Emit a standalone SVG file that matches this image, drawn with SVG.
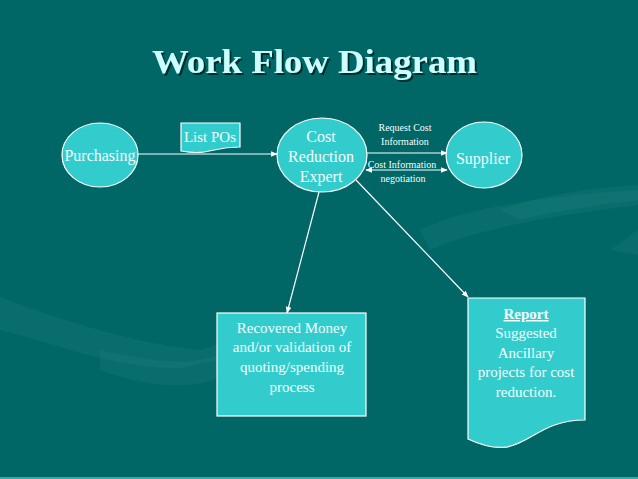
<svg xmlns="http://www.w3.org/2000/svg" width="638" height="479" viewBox="0 0 638 479">
<style>
.bg{fill:#006666}
.deco{fill:#2a8a86;opacity:0.2}
.node{fill:#33CCCC;stroke:#ffffff;stroke-width:1.2}
.t{font-family:"Liberation Serif","Times New Roman",serif;fill:#f4ffff;text-anchor:middle}
.n{font-size:15px}
.s{font-size:10px}
.conn{stroke:#ffffff;stroke-width:1.2;fill:none}
.title{font-family:"Liberation Serif","Times New Roman",serif;font-weight:bold;font-size:34px;fill:#ccffff}
</style>
<defs>
<marker id="ah" viewBox="0 0 10 10" refX="9" refY="5" markerWidth="7" markerHeight="7" orient="auto-start-reverse" markerUnits="userSpaceOnUse">
<path d="M0,1 L10,5 L0,9 z" fill="#ffffff"/>
</marker>
<filter id="shadow" x="-5%" y="-20%" width="110%" height="150%">
<feDropShadow dx="2" dy="2" stdDeviation="0.6" flood-color="#002a2a" flood-opacity="0.9"/>
</filter>
</defs>
<rect class="bg" x="0" y="0" width="638" height="479"/>
<g id="background-decoration">
<path class="deco" d="M0,297 C60,320 140,345 200,350 L260,330 L220,360 L180,368 C120,370 60,345 0,330 z"/>
<path class="deco" d="M100,350 C150,360 190,370 230,350 L215,380 C180,390 140,385 100,370 z"/>
<path class="deco" d="M420,230 C470,205 560,195 638,190 L638,205 C560,215 490,225 430,250 z"/>
<path class="deco" d="M500,210 C540,195 590,188 638,185 L638,200 C600,205 560,210 520,220 z"/>
<path class="deco" d="M610,250 L638,230 L638,255 z"/>
<rect x="0" y="477" width="638" height="2" fill="#3aa8a4"/>
</g>
<g id="title">
<text class="title" x="152" y="73" textLength="325" lengthAdjust="spacingAndGlyphs" filter="url(#shadow)">Work Flow Diagram</text>
</g>
<g id="connectors">
<line class="conn" x1="138" y1="154" x2="277" y2="154" marker-end="url(#ah)"/>
<line class="conn" x1="367" y1="153" x2="447" y2="153" marker-end="url(#ah)"/>
<line class="conn" x1="366" y1="170" x2="447" y2="170" marker-start="url(#ah)" marker-end="url(#ah)"/>
<line class="conn" x1="319" y1="192" x2="287" y2="313" marker-end="url(#ah)"/>
<line class="conn" x1="356" y1="180" x2="468" y2="297" marker-end="url(#ah)"/>
<text class="t s" x="405" y="131">Request Cost</text>
<text class="t s" x="405" y="145">Information</text>
<text class="t s" x="402" y="168">Cost Information</text>
<text class="t s" x="403" y="182">negotiation</text>
</g>
<g id="purchasing">
<ellipse class="node" cx="100" cy="155" rx="38" ry="32"/>
<text class="t" x="100" y="161" font-size="16">Purchasing</text>
</g>
<g id="list-pos">
<path class="node" d="M181,123 L240,123 L240,147 C210,147 210,156 181,151 z"/>
<text class="t n" x="210" y="142">List POs</text>
</g>
<g id="cost-reduction-expert">
<ellipse class="node" cx="322" cy="155" rx="45" ry="37"/>
<text class="t" x="321" y="142" font-size="16">Cost</text>
<text class="t" x="321" y="162" font-size="16">Reduction</text>
<text class="t" x="321" y="182" font-size="16">Expert</text>
</g>
<g id="supplier">
<ellipse class="node" cx="484" cy="155" rx="38" ry="33"/>
<text class="t" x="483" y="164" font-size="16">Supplier</text>
</g>
<g id="recovered-money">
<rect class="node" x="217" y="313" width="149" height="103"/>
<text class="t n" x="292" y="333">Recovered Money</text>
<text class="t n" x="292" y="352">and/or validation of</text>
<text class="t n" x="292" y="372">quoting/spending</text>
<text class="t n" x="292" y="392">process</text>
</g>
<g id="report">
<path class="node" d="M468,298 L585,298 L585,420 C526,420 526,466 468,439 z"/>
<text class="t n" x="526" y="319" font-weight="bold" text-decoration="underline">Report </text>
<text class="t n" x="526" y="338">Suggested</text>
<text class="t n" x="526" y="358">Ancillary</text>
<text class="t n" x="526" y="377">projects for cost</text>
<text class="t n" x="526" y="397">reduction.</text>
</g>
</svg>
